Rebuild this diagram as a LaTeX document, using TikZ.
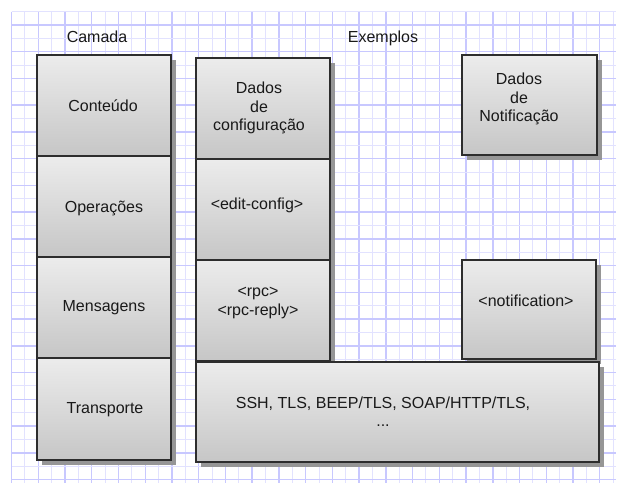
\documentclass[tikz,border=0pt]{standalone}
\usepackage{fontspec}
\setmainfont{Liberation Sans}
\usetikzlibrary{shadows}
\definecolor{gridminor}{RGB}{226,226,255}
\definecolor{gridmajor}{RGB}{200,200,255}
\definecolor{boxborder}{RGB}{45,45,45}
\definecolor{boxtop}{RGB}{236,236,236}
\definecolor{boxbottom}{RGB}{198,198,198}
\definecolor{shadowgray}{RGB}{150,150,150}
\tikzset{
  layerbox/.style={draw=boxborder, line width=2.4pt, top color=boxtop, bottom color=boxbottom,
    inner sep=0pt, outer sep=0pt,
    drop shadow={shadow xshift=5pt, shadow yshift=-5pt, fill=shadowgray, opacity=1}},
  lbl/.style={font=\fontsize{16}{18.3}\selectfont, align=center, inner sep=0pt, text=black!90},
}
\begin{document}
\begin{tikzpicture}[x=1pt,y=-1pt]
\useasboundingbox (0,0) rectangle (617,483);
\fill[white] (0,0) rectangle (617,483);
% grid
\foreach \k in {0,...,45}{
  \pgfmathsetmacro{\xx}{11.5+13.37*\k}
  \pgfmathtruncatemacro{\parity}{mod(\k,2)}
  \ifnum\parity=0
    \draw[gridmajor, line width=1.4pt] (\xx,11.6) -- (\xx,483);
  \else
    \draw[gridminor, line width=1pt] (\xx,11.6) -- (\xx,483);
  \fi
}
\foreach \k in {0,...,35}{
  \pgfmathsetmacro{\yy}{11.6+13.37*\k}
  \pgfmathtruncatemacro{\parity}{mod(\k,2)}
  \ifnum\parity=1
    \draw[gridmajor, line width=1.4pt] (11.5,\yy) -- (616,\yy);
  \else
    \draw[gridminor, line width=1pt] (11.5,\yy) -- (616,\yy);
  \fi
}
% headings
\node[lbl] (camada) at (97,37) {Camada};
\node[lbl] (exemplos) at (383,38) {Exemplos};
% left column
\node[layerbox, minimum width=134pt, minimum height=101pt] (l1) at (104,105.5) {};
\node[layerbox, minimum width=134pt, minimum height=101pt] (l2) at (104,206.5) {};
\node[layerbox, minimum width=134pt, minimum height=101pt] (l3) at (104,307.5) {};
\node[layerbox, minimum width=134pt, minimum height=102pt] (l4) at (104,409) {};
% middle column
\node[layerbox, minimum width=134pt, minimum height=101pt] (m1) at (263,108.5) {};
\node[layerbox, minimum width=134pt, minimum height=101pt] (m2) at (263,209.5) {};
\node[layerbox, minimum width=134pt, minimum height=101pt] (m3) at (263,310.5) {};
% right column
\node[layerbox, minimum width=135pt, minimum height=100pt] (r1) at (529.5,105) {};
\node[layerbox, minimum width=134pt, minimum height=99pt] (r2) at (529,309.5) {};
% transport examples
\node[layerbox, minimum width=403pt, minimum height=100pt] (ssh) at (397.5,412) {};
% texts
\node[lbl] (t1) at (103,106) {Conteúdo};
\node[lbl] (t2) at (104,208) {Operações};
\node[lbl] (t3) at (104,308) {Mensagens};
\node[lbl] (t4) at (105,410) {Transporte};
\node[lbl] (tm1) at (259,108) {Dados\\de\\configuração};
\node[lbl] (tm2) at (257,205) {<edit-config>};
\node[lbl] (tm3) at (258,303) {<rpc>\\<rpc-reply>};
\node[lbl] (tr1) at (519,99) {Dados\\de\\Notificação};
\node[lbl] (tr2) at (526,301) {<notification>};
\node[lbl] (tssh) at (383,412) {SSH, TLS, BEEP/TLS, SOAP/HTTP/TLS,\\...};
\end{tikzpicture}
\end{document}
